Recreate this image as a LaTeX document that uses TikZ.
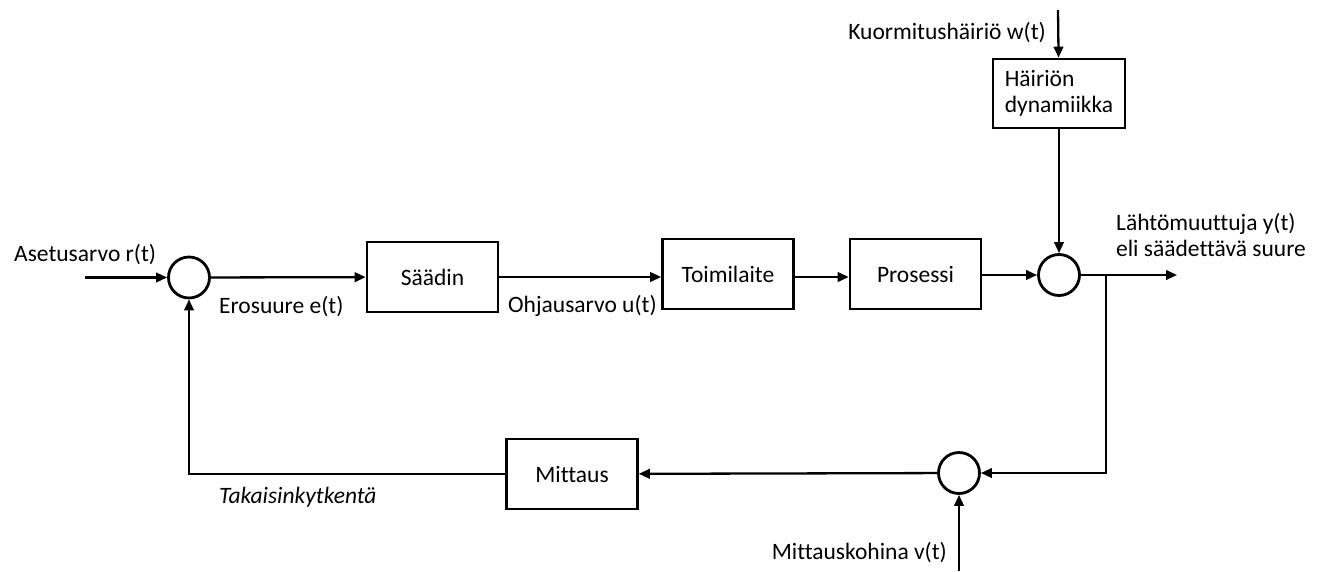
\documentclass[tikz,border=0pt]{standalone}
\usepackage{fontspec}
\setmainfont[Ligatures=NoCommon]{Carlito}
\usetikzlibrary{arrows.meta}
\begin{document}
\begin{tikzpicture}[x=1pt,y=-1pt,line width=2.3pt,
  every node/.style={font=\fontsize{23.5}{26}\selectfont},
  blk/.style={draw,line width=2.6pt,minimum width=131pt,minimum height=70pt,inner sep=0pt},
  sumpt/.style={draw,circle,line width=2.8pt,minimum size=41pt,inner sep=0pt},
  lbl/.style={inner sep=0pt},
  arr/.style={-{Triangle[length=11pt,width=9.5pt]}}]
\useasboundingbox (0,0) rectangle (1326,571);

% blocks and summing points
\node[sumpt] (s1) at (189,277.5) {};
\node[blk] (saadin) at (432.5,277) {Säädin};
\node[blk] (toim) at (728,274) {Toimilaite};
\node[blk] (pros) at (915.5,274) {Prosessi};
\node[sumpt] (s2) at (1059,275) {};
\node[blk,minimum width=132pt,minimum height=69pt,align=left] (hd) at (1059,93.5) {Häiriön\\dynamiikka};
\node[sumpt] (s3) at (959,473) {};
\node[blk] (mitt) at (572,474) {Mittaus};

% free ends of the signals
\coordinate (rin) at (85,277.5);
\coordinate (win) at (1058,10);
\coordinate (yout) at (1177,275);
\coordinate (br) at (1106,275);
\coordinate (vin) at (959,571);

% signal paths
\draw[arr] (rin) -- (s1);
\draw[arr] (s1) -- (saadin);
\draw[arr] (saadin.east) -- (saadin.east -| toim.west);
\draw[arr] (toim.east |- 0,277) -- (pros.west |- 0,277);
\draw[arr] (pros.east |- s2) -- (s2);
\draw[arr] (s2) -- (yout);
\draw[arr] (br) |- (s3);
\draw[arr] (vin) -- (s3);
\draw[arr] (s3) -- (mitt);
\draw[arr] (mitt) -| (s1);
\draw[arr] (win) -- (hd);
\draw[arr] (hd) -- (s2);

% signal names
\node[lbl,anchor=west] at (13,255) {Asetusarvo r(t)};
\node[lbl,anchor=west] at (218,307) {Erosuure e(t)};
\node[lbl,anchor=west] at (507,306) {Ohjausarvo u(t)};
\node[lbl,anchor=east] at (1047,33) {Kuormitushäiriö w(t)};
\node[lbl,anchor=west,align=left] at (1115,235) {Lähtömuuttuja y(t)\\eli säädettävä suure};
\node[lbl,anchor=east] at (948,553) {Mittauskohina v(t)};
\node[lbl,anchor=west,font=\fontsize{23.5}{26}\selectfont\itshape] at (218,497) {Takaisinkytkentä};
\end{tikzpicture}
\end{document}
